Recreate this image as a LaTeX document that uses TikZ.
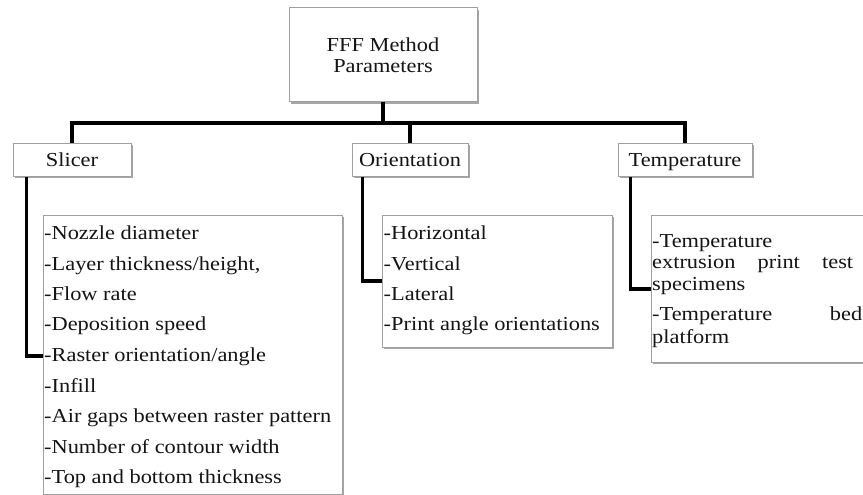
\documentclass[tikz,border=0pt]{standalone}
\usepackage{fontspec}
\setmainfont{Liberation Serif}[FakeStretch=1.13]
\usetikzlibrary{shadows}
\definecolor{boxgrey}{RGB}{160,160,160}
\definecolor{txt}{RGB}{20,20,20}
\pgfdeclarelayer{background}
\pgfsetlayers{background,main}
\begin{document}
\begin{tikzpicture}[x=1pt,y=-1pt,
  every node/.style={font=\fontsize{19.8}{21.5}\selectfont, text=txt},
  box/.style={draw=boxgrey, line width=1pt, fill=white, inner sep=0pt,
    drop shadow={shadow xshift=1.6pt, shadow yshift=-1.8pt, fill=black, opacity=0.35}},
  headbox/.style={box, minimum height=33pt, text height=13.5pt, text depth=0.5pt},
  listbox/.style={box, anchor=north west},
  item/.style={anchor=base west, inner sep=0pt},
  conn/.style={line width=3.8pt, draw=black}
]
\useasboundingbox (0,0) rectangle (863,495);

% boxes
\node[box, minimum width=188pt, minimum height=94pt, align=center] (top) at (383,55) {FFF Method\\Parameters};
\node[headbox, minimum width=118pt] (slicer) at (72,159.5) {Slicer};
\node[headbox, minimum width=116pt] (orient) at (410,159.5) {Orientation};
\node[headbox, minimum width=134pt] (temp) at (685,159.5) {Temperature};

\node[listbox, minimum width=299pt, minimum height=279pt] (slist) at (43,215) {};
\node[listbox, minimum width=230pt, minimum height=132pt] (olist) at (382,215) {};
\node[listbox, minimum width=240pt, minimum height=147pt] (tlist) at (651,215) {};

% connectors (behind the boxes)
\coordinate (bus) at (383,123);
\coordinate (sj) at (43,356);
\coordinate (oj) at (382,281);
\coordinate (tj) at (651,289);
\begin{pgfonlayer}{background}
\draw[conn] (top.south) -- (bus);
\draw[conn] (slicer.north) -- (slicer.north |- bus) -- (temp.north |- bus) -- (temp.north);
\draw[conn] (orient.north) -- (orient.north |- bus);
\draw[conn] ([xshift=14pt]slicer.south west) |- (sj);
\draw[conn] ([xshift=11pt]orient.south west) |- (oj);
\draw[conn] ([xshift=13pt]temp.south west) |- (tj);
\end{pgfonlayer}

% slicer items
\node[item] (s1) at (44,239) {-Nozzle diameter};
\node[item] (s2) at (44,270) {-Layer thickness/height,};
\node[item] (s3) at (44,300) {-Flow rate};
\node[item] (s4) at (44,330) {-Deposition speed};
\node[item] (s5) at (44,361) {-Raster orientation/angle};
\node[item] (s6) at (44,392) {-Infill};
\node[item] (s7) at (44,422) {-Air gaps between raster pattern};
\node[item] (s8) at (44,453) {-Number of contour width};
\node[item] (s9) at (44,483) {-Top and bottom thickness};

% orientation items
\node[item] (o1) at (383.5,239) {-Horizontal};
\node[item] (o2) at (383.5,270) {-Vertical};
\node[item] (o3) at (383.5,300) {-Lateral};
\node[item] (o4) at (383.5,330) {-Print angle orientations};

% temperature items
\node[item] (t1) at (652,247) {-Temperature};
\node[item] (t2) at (652,268) {\makebox[201pt][s]{extrusion print test}};
\node[item] (t3) at (652,290) {specimens};
\node[item] (t4) at (652,320) {\makebox[210pt][s]{-Temperature bed}};
\node[item] (t5) at (652,343) {platform};
\end{tikzpicture}
\end{document}
